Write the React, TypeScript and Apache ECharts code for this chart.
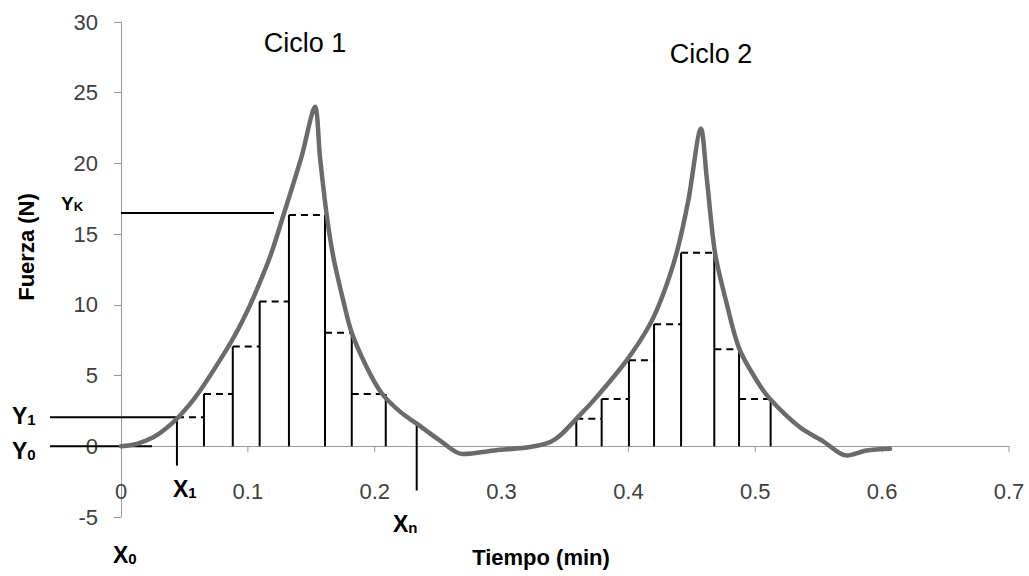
import React, { useEffect, useRef } from "react";
import * as echarts from "echarts";

// Force curve (time in min, force in N)
const curveTime = [
  0, 0.0124, 0.0255, 0.0334, 0.0452, 0.0609, 0.0846, 0.0951, 0.1043,
  0.1175, 0.1279, 0.1424, 0.1529, 0.1569, 0.1621, 0.1674, 0.1752, 0.1819,
  0.1937, 0.2055, 0.2199, 0.2331, 0.2515, 0.269, 0.2988, 0.3224, 0.3382,
  0.3461, 0.3589, 0.3736, 0.3986, 0.417, 0.4275, 0.438, 0.4472, 0.4572,
  0.4617, 0.4682, 0.4775, 0.4874, 0.5011, 0.5116, 0.5352, 0.5536, 0.5721,
  0.5878, 0.6062,
];
const curveForce = [
  0, 0.17, 0.64, 1.11, 2.05, 3.75, 7.05, 8.75, 10.5,
  13.4, 16.3, 20.5, 24.0, 20.4, 16.39, 13.37, 10.3, 8.02,
  5.59, 3.75, 2.45, 1.6, 0.4, -0.55, -0.25, -0.05, 0.3,
  0.76, 1.94, 3.35, 6.08, 8.63, 10.78, 13.68, 17.38, 22.45,
  19.0, 13.72, 10.07, 6.89, 4.65, 3.35, 1.34, 0.35, -0.66,
  -0.3, -0.18,
];

// Rectangles under each cycle
const cycle1Times = [0.0441, 0.0654, 0.0881, 0.1093, 0.1324, 0.1608, 0.1819, 0.2087];
const cycle1Heights = [2.05, 3.7, 7.05, 10.23, 16.36, 16.36, 8.02, 3.7];
const cycle2Times = [0.3589, 0.3789, 0.4004, 0.4202, 0.4415, 0.4677, 0.4872, 0.5121];
const cycle2Heights = [1.94, 3.35, 6.08, 8.63, 13.68, 13.68, 6.86, 3.35];

// Guide lines
const guideLeft = -0.056;
const yKLevel = 16.5;
const yKEnd = 0.1206;
const y0End = 0.0244;
const x1Bottom = -1.37;
const xnTime = 0.2331;
const xnTop = 1.63;
const xnBottom = -3.13;

// Axis ticks
const xTicks = { min: 0, max: 0.7, interval: 0.1 };
const yTicks = { min: -5, max: 30, interval: 5 };
const xTickDepth = 0.42; // tick mark length below the zero line, in N

const FONT = '"Liberation Sans", Arial, sans-serif';
const AXIS_COLOR = "#9a9a9a";

function buildSegments() {
  const solid: number[][] = [];
  const dashed: number[][] = [];
  const ticks: number[][] = [];
  const addCycle = (ts: number[], hs: number[]) => {
    ts.forEach((t, i) => solid.push([t, 0, t, hs[i]]));
    for (let i = 0; i < ts.length - 1; i++) {
      const h = Math.min(hs[i], hs[i + 1]);
      dashed.push([ts[i], h, ts[i + 1], h]);
    }
  };
  addCycle(cycle1Times, cycle1Heights);
  addCycle(cycle2Times, cycle2Heights);
  // guides
  solid.push([0, yKLevel, yKEnd, yKLevel]);
  solid.push([guideLeft, cycle1Heights[0], cycle1Times[0], cycle1Heights[0]]);
  solid.push([guideLeft, 0, y0End, 0]);
  solid.push([cycle1Times[0], 0, cycle1Times[0], x1Bottom]);
  solid.push([xnTime, xnTop, xnTime, xnBottom]);
  // x-axis tick marks on the zero line
  const n = Math.round((xTicks.max - xTicks.min) / xTicks.interval);
  for (let i = 1; i <= n; i++) {
    const v = xTicks.min + i * xTicks.interval;
    ticks.push([v, 0, v, -xTickDepth]);
  }
  return { solid, dashed, ticks };
}

const segRender = (stroke: string, width: number, dash: boolean) => (params: any, api: any) => {
  const p1 = api.coord([api.value(0), api.value(1)]);
  const p2 = api.coord([api.value(2), api.value(3)]);
  return {
    type: "line",
    shape: { x1: p1[0], y1: p1[1], x2: p2[0], y2: p2[1] },
    style: { stroke, lineWidth: width, lineDash: dash ? [7, 5] : null },
  };
};

function subLabel(main: string, sub: string, x: number, y: number, big = 23, small = 15, subDrop = 5) {
  return {
    type: "text",
    x,
    y,
    z: 100,
    style: {
      text: `{m|${main}}{s|${sub}}`,
      textAlign: "left",
      textVerticalAlign: "middle",
      rich: {
        m: { fontSize: big, fontWeight: "bold", fontFamily: FONT, fill: "#000", lineHeight: big + 1, verticalAlign: "bottom" },
        s: { fontSize: small, fontWeight: "bold", fontFamily: FONT, fill: "#000", lineHeight: small - subDrop, verticalAlign: "bottom" },
      },
    },
  };
}

export default function App() {
  const ref = useRef<HTMLDivElement>(null);
  useEffect(() => {
    if (!ref.current) return;
    const chart = echarts.init(ref.current, undefined, { renderer: "svg" });
    const { solid, dashed, ticks } = buildSegments();
    chart.setOption({
      animation: false,
      backgroundColor: "#fff",
      grid: { left: 121, right: 20, top: 22, bottom: 59, containLabel: false, outerBoundsMode: "none" },
      xAxis: {
        type: "value",
        min: xTicks.min,
        max: xTicks.max,
        interval: xTicks.interval,
        axisLine: { show: true, onZero: true, lineStyle: { color: AXIS_COLOR, width: 1 } },
        axisTick: { show: false },
        axisLabel: { margin: -37, fontFamily: FONT, fontSize: 22, color: "#404040" },
        splitLine: { show: false },
      },
      yAxis: {
        type: "value",
        min: yTicks.min,
        max: yTicks.max,
        interval: yTicks.interval,
        name: "Fuerza (N)",
        nameLocation: "middle",
        nameGap: 84,
        nameMoveOverlap: false,
        nameTextStyle: { fontFamily: FONT, fontSize: 22, fontWeight: "bold", color: "#000", padding: [0, 0, 0, 45] },
        axisLine: { show: true, lineStyle: { color: AXIS_COLOR, width: 1 } },
        axisTick: { show: true, length: 7, lineStyle: { color: AXIS_COLOR } },
        axisLabel: { margin: 23, fontFamily: FONT, fontSize: 22, color: "#404040" },
        splitLine: { show: false },
      },
      series: [
        {
          type: "custom",
          name: "xTicks",
          renderItem: segRender(AXIS_COLOR, 1, false),
          data: ticks,
          encode: { x: [0, 2], y: [1, 3] },
          clip: false,
          silent: true,
          z: 1,
        },
        {
          type: "custom",
          name: "rect",
          renderItem: segRender("#000", 2, false),
          data: solid,
          encode: { x: [0, 2], y: [1, 3] },
          clip: false,
          silent: true,
          z: 2,
        },
        {
          type: "custom",
          name: "rectTop",
          renderItem: segRender("#000", 2, true),
          data: dashed,
          encode: { x: [0, 2], y: [1, 3] },
          clip: false,
          silent: true,
          z: 2,
        },
        {
          type: "line",
          name: "Fuerza",
          data: curveTime.map((t, i) => [t, curveForce[i]]),
          showSymbol: false,
          smooth: 0.3,
          lineStyle: { color: "#6b6b6b", width: 4.5, cap: "round", join: "round" },
          z: 3,
        },
      ],
      graphic: [
        { type: "text", x: 541, y: 557, style: { text: "Tiempo (min)", fontFamily: FONT, fontSize: 22, fontWeight: "bold", fill: "#000", textAlign: "center", textVerticalAlign: "middle" } },
        { type: "text", x: 305, y: 43, style: { text: "Ciclo 1", fontFamily: FONT, fontSize: 27, fill: "#000", textAlign: "center", textVerticalAlign: "middle" } },
        { type: "text", x: 711, y: 54, style: { text: "Ciclo 2", fontFamily: FONT, fontSize: 27, fill: "#000", textAlign: "center", textVerticalAlign: "middle" } },
        subLabel("Y", "K", 61, 203, 19, 13, 0),
        subLabel("Y", "1", 12, 415),
        subLabel("Y", "0", 12, 450),
        subLabel("X", "1", 173, 488),
        subLabel("X", "n", 393, 523),
        subLabel("X", "0", 113, 554),
      ],
    });
    return () => chart.dispose();
  }, []);
  return (
    <div
      ref={ref}
      style={{ position: "fixed", left: 0, top: 0, width: 1029, height: 576 }}
    />
  );
}
